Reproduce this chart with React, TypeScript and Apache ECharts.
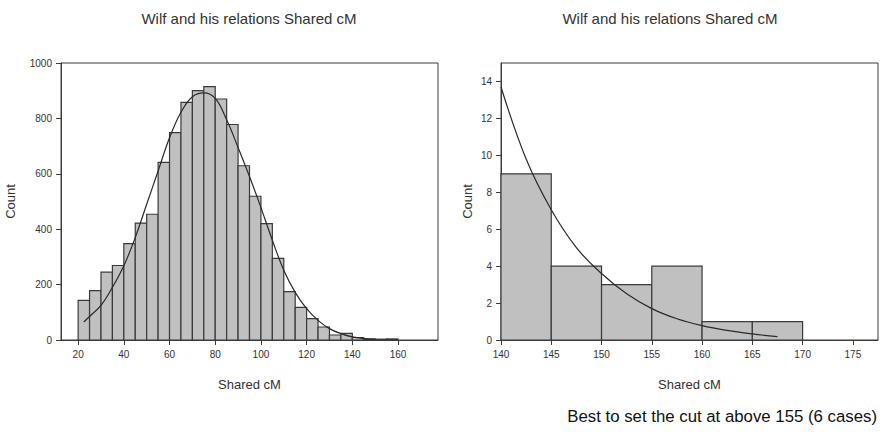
import React, { useEffect, useRef } from "react";
import * as echarts from "echarts";

// ---- data ----
const BIN = 5;
const leftBinStarts = [20, 25, 30, 35, 40, 45, 50, 55, 60, 65, 70, 75, 80, 85, 90, 95, 100, 105, 110, 115, 120, 125, 130, 135, 140, 145, 150, 155];
const leftCounts = [143, 178, 245, 269, 348, 422, 454, 641, 749, 858, 900, 915, 870, 778, 629, 519, 420, 295, 175, 118, 77, 47, 18, 24, 9, 4, 3, 4];
const leftCurveX = [22.5, 25, 30, 35, 40, 45, 50, 55, 60, 65, 70, 75, 80, 85, 90, 95, 100, 105, 110, 115, 120, 125, 130, 135, 140, 145, 150];
const leftCurveY = [65, 85, 125, 190, 268, 370, 490, 610, 730, 822, 878, 892, 872, 795, 695, 590, 478, 360, 252, 172, 113, 71, 41, 23, 11, 5, 2];
const leftXTicks = [20, 40, 60, 80, 100, 120, 140, 160];
const leftYTicks = [0, 200, 400, 600, 800, 1000];

const rightBinStarts = [140, 145, 150, 155, 160, 165];
const rightCounts = [9, 4, 3, 4, 1, 1];
const rightCurveX = [140, 142.5, 145, 147.5, 150, 152.5, 155, 157.5, 160, 162.5, 165, 167.5];
const rightCurveY = [13.7, 9.8, 7.05, 5.0, 3.6, 2.5, 1.7, 1.15, 0.78, 0.52, 0.33, 0.18];
const rightXTicks = [140, 145, 150, 155, 160, 165, 170, 175];
const rightYTicks = [0, 2, 4, 6, 8, 10, 12, 14];

const titleText = "Wilf and his relations Shared cM";
const xName = "Shared cM";
const yName = "Count";
const noteText = "Best to set the cut at above 155 (6 cases)";

const FONT = "'Liberation Sans', Arial, sans-serif";
const AXIS_COLOR = "#3c3c3c";
const LABEL_COLOR = "#333";

function histSeries(idx: number, starts: number[], counts: number[]) {
  return {
    type: "custom",
    xAxisIndex: idx,
    yAxisIndex: idx,
    encode: { x: [0, 1], y: 2 },
    data: starts.map((s, i) => [s, s + BIN, counts[i]]),
    renderItem: (_p: any, api: any) => {
      const p0 = api.coord([api.value(0), api.value(2)]);
      const p1 = api.coord([api.value(1), 0]);
      return {
        type: "rect",
        shape: { x: p0[0], y: p0[1], width: p1[0] - p0[0], height: p1[1] - p0[1] },
        style: { fill: "#c0c0c0", stroke: "#3a3a3a", lineWidth: 1.2 },
      };
    },
    z: 2,
  };
}

function curveSeries(idx: number, xs: number[], ys: number[]) {
  return {
    type: "line",
    xAxisIndex: idx,
    yAxisIndex: idx,
    data: xs.map((x, i) => [x, ys[i]]),
    smooth: 0.4,
    showSymbol: false,
    symbol: "none",
    lineStyle: { color: "#2a2a2a", width: 1.2 },
    z: 3,
  };
}

const plain = (v: number) => String(v);

function xAxis(idx: number, min: number, max: number, ticks: number[]) {
  return {
    type: "value",
    gridIndex: idx,
    min,
    max,
    name: xName,
    nameLocation: "middle",
    nameGap: 38,
    nameTextStyle: { fontSize: 13, fontFamily: FONT, color: LABEL_COLOR },
    axisLine: { show: true, lineStyle: { color: AXIS_COLOR, width: 1 } },
    axisTick: { show: true, length: 5, customValues: ticks, lineStyle: { color: AXIS_COLOR } },
    axisLabel: { customValues: ticks, formatter: plain, margin: 9, fontSize: 10, fontFamily: FONT, color: LABEL_COLOR },
    splitLine: { show: false },
  };
}

function yAxis(idx: number, min: number, max: number, ticks: number[], gap: number) {
  return {
    type: "value",
    gridIndex: idx,
    min,
    max,
    name: yName,
    nameLocation: "middle",
    nameGap: gap,
    nameTextStyle: { fontSize: 13, fontFamily: FONT, color: LABEL_COLOR },
    axisLine: { show: true, lineStyle: { color: AXIS_COLOR, width: 1 } },
    axisTick: { show: true, length: 5, customValues: ticks, lineStyle: { color: AXIS_COLOR } },
    axisLabel: { customValues: ticks, formatter: plain, margin: 9, fontSize: 10, fontFamily: FONT, color: LABEL_COLOR },
    splitLine: { show: false },
  };
}

export default function App() {
  const ref = useRef<HTMLDivElement>(null);
  useEffect(() => {
    if (!ref.current) return;
    const chart = echarts.init(ref.current, undefined, { renderer: "svg" });
    chart.setOption({
      animation: false,
      backgroundColor: "#ffffff",
      grid: [
        { left: 61, top: 63, width: 377, height: 277, show: true, borderColor: AXIS_COLOR, borderWidth: 1, backgroundColor: "transparent" },
        { left: 501, top: 63, width: 377, height: 277, show: true, borderColor: AXIS_COLOR, borderWidth: 1, backgroundColor: "transparent" },
      ],
      xAxis: [xAxis(0, 12.5, 177.5, leftXTicks), xAxis(1, 140, 177.5, rightXTicks)],
      yAxis: [yAxis(0, 0, 1000, leftYTicks, 44), yAxis(1, 0, 15, rightYTicks, 27)],
      series: [
        histSeries(0, leftBinStarts, leftCounts),
        curveSeries(0, leftCurveX, leftCurveY),
        histSeries(1, rightBinStarts, rightCounts),
        curveSeries(1, rightCurveX, rightCurveY),
      ],
      graphic: [
        { type: "text", x: 249, y: 18, style: { text: titleText, align: "center", verticalAlign: "middle", fontSize: 15, fontFamily: FONT, fill: "#333" } },
        { type: "text", x: 670, y: 18, style: { text: titleText, align: "center", verticalAlign: "middle", fontSize: 15, fontFamily: FONT, fill: "#333" } },
        { type: "text", x: 877, y: 416, style: { text: noteText, align: "right", verticalAlign: "middle", fontSize: 16.8, fontFamily: FONT, fill: "#111" } },
      ],
    });
    return () => chart.dispose();
  }, []);
  return <div ref={ref} style={{ position: "fixed", left: 0, top: 0, width: 881, height: 439 }} />;
}
